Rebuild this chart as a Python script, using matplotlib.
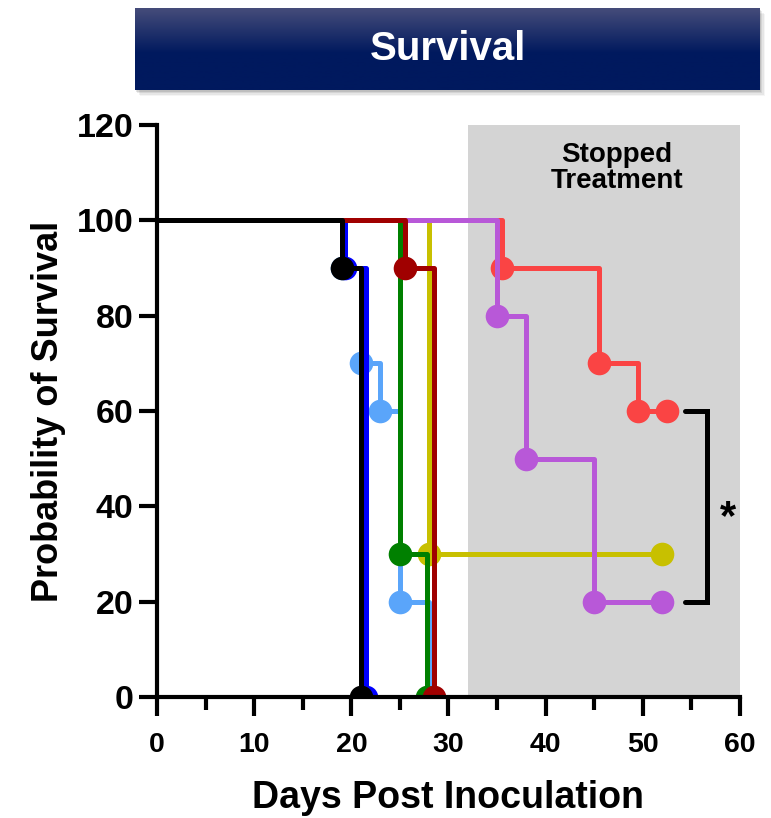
import numpy as np
import matplotlib
matplotlib.use("Agg")
import matplotlib.pyplot as plt
from matplotlib.patches import Rectangle

FONT = ["Liberation Sans", "DejaVu Sans"]

# Kaplan-Meier step data: times of events and survival after each event (%)
black_t = [0, 19, 21]
black_s = [100, 90, 0]
blue_t = [0, 19.3, 21.5]
blue_s = [100, 90, 0]
lblue_t = [0, 19, 21, 23, 25, 28]
lblue_s = [100, 90, 70, 60, 20, 0]
green_t = [0, 25, 27.8]
green_s = [100, 30, 0]
yellow_t = [0, 28, 52]
yellow_s = [100, 30, 30]
dred_t = [0, 25.5, 28.5]
dred_s = [100, 90, 0]
red_t = [0, 35.5, 45.5, 49.5, 52.5]
red_s = [100, 90, 70, 60, 60]
purple_t = [0, 35, 38, 45, 52]
purple_s = [100, 80, 50, 20, 20]

# drawn bottom -> top
series = [
    (lblue_t, lblue_s, "#5aa5fa"),
    (red_t, red_s, "#fa4444"),
    (yellow_t, yellow_s, "#c8c000"),
    (purple_t, purple_s, "#b858d8"),
    (green_t, green_s, "#008000"),
    (blue_t, blue_s, "#0000ff"),
    (dred_t, dred_s, "#a00000"),
    (black_t, black_s, "#000000"),
]

stop_day = 32

fig = plt.figure(figsize=(7.71, 8.18), dpi=100)
ax = fig.add_axes([157 / 771, 1 - 697 / 818, 583 / 771, 572 / 818])

ax.axvspan(stop_day, 60, color="#d4d4d4", zorder=0, lw=0)
for i, (t, s, c) in enumerate(series):
    ax.step(t, s, where="post", color=c, lw=3.6, zorder=2 + i)
    ax.plot(t[1:], s[1:], "o", color=c, ms=17, mew=0, zorder=2 + i)

ax.set_xlim(0, 60)
ax.set_ylim(0, 120)
ax.set_xticks(range(0, 61, 10))
ax.set_xticks(range(5, 60, 10), minor=True)
ax.set_yticks(range(0, 121, 20))
for s in ("top", "right"):
    ax.spines[s].set_visible(False)
for s in ("left", "bottom"):
    ax.spines[s].set_linewidth(3)
    ax.spines[s].set_zorder(20)
ax.tick_params(axis="x", which="major", length=14, width=3, pad=11)
ax.tick_params(axis="x", which="minor", length=9, width=3)
ax.tick_params(axis="y", length=13, width=3, pad=4)
for lab in ax.get_xticklabels():
    lab.set_fontfamily(FONT); lab.set_fontsize(20.5); lab.set_fontweight("bold")
for lab in ax.get_yticklabels():
    lab.set_fontfamily(FONT); lab.set_fontsize(24.5); lab.set_fontweight("bold")

ax.set_xlabel("Days Post Inoculation", family=FONT, fontsize=27, fontweight="bold", labelpad=16)
ax.set_ylabel("Probability of Survival", family=FONT, fontsize=26, fontweight="bold", labelpad=8)

ax.text(47.3, 111, "Stopped\nTreatment", ha="center", va="center", family=FONT,
        fontsize=20, fontweight="bold", linespacing=1.0, zorder=30)

# significance bracket between red and purple
ax.plot([54.3, 56.6, 56.6, 54.3], [60, 60, 20, 20], color="black", lw=3.6,
        solid_capstyle="round", solid_joinstyle="miter", clip_on=False, zorder=30)
ax.text(58.8, 37.5, "*", ha="center", va="center", fontsize=30, fontweight="bold",
        family=FONT, clip_on=False)

# title banner with gradient and soft shadow
bx0, by0, bw, bh = 135 / 771, 1 - 90 / 818, 625 / 771, 82 / 818
for k, a in enumerate([0.10, 0.08, 0.06, 0.04]):
    fig.patches.append(Rectangle((bx0 + (k + 1) * 1.2 / 771, by0 - (k + 1) * 1.5 / 818), bw, bh,
                                 transform=fig.transFigure, color="black", alpha=a, lw=0, zorder=-5))
bax = fig.add_axes([bx0, by0, bw, bh], zorder=5)
top = np.array([0x45, 0x4c, 0x7a]) / 255
bot = np.array([0x00, 0x19, 0x5e]) / 255
f = np.clip(np.linspace(0, 1, 100) / 0.55, 0, 1)[:, None]
grad = top[None, :] * (1 - f) + bot[None, :] * f
bax.imshow(grad[:, None, :], aspect="auto", extent=[0, 1, 0, 1])
bax.set_axis_off()
bax.text(0.5, 0.5, "Survival", ha="center", va="center", color="white", family=FONT,
         fontsize=29, fontweight="bold", transform=bax.transAxes)

fig.savefig("out.png", dpi=100)
